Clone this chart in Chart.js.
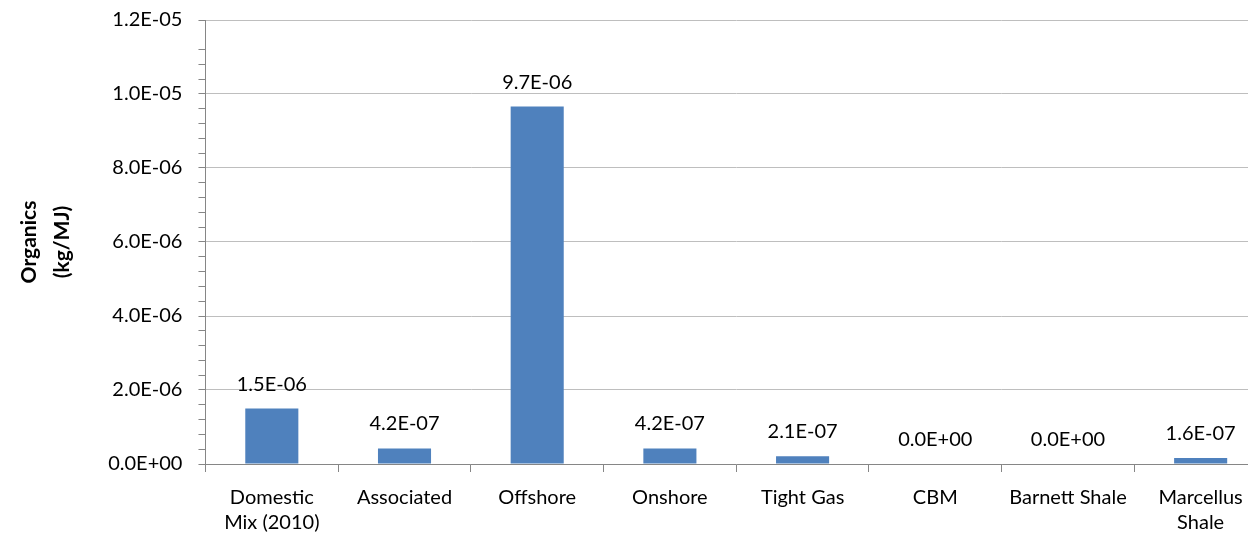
<!DOCTYPE html>
<html>
<head>
<meta charset="utf-8">
<script src="https://cdn.jsdelivr.net/npm/chart.js@4/dist/chart.umd.min.js"></script>
<style>
html,body{margin:0;padding:0;background:#fff;overflow:hidden;width:1248px;height:537px;}
#wrap{position:absolute;left:0;top:-8px;width:1280px;height:556px;}
</style>
</head>
<body>
<div id="wrap"><canvas id="c" width="1280" height="556"></canvas></div>
<script>
const categories = [["Domestic","Mix (2010)"],"Associated","Offshore","Onshore","Tight Gas","CBM","Barnett Shale",["Marcellus","Shale"]];
const organics = [1.5e-6, 4.2e-7, 9.66e-6, 4.2e-7, 2.1e-7, 0, 0, 1.6e-7];
const yTitle = ["Organics","(kg/MJ)"];
const yMin = 0, yMax = 1.2e-5, yMajor = 2e-6, yMinor = 4e-7;

function fmt(v){
  const s = v.toExponential(1);
  const parts = s.split('e');
  const ex = parseInt(parts[1],10);
  const sign = ex < 0 ? '-' : '+';
  return parts[0] + 'E' + sign + String(Math.abs(ex)).padStart(2,'0');
}
function isMajor(v){
  const r = v / yMajor;
  return Math.abs(r - Math.round(r)) < 1e-3;
}
const FONT = "Lato, 'Open Sans', sans-serif";
const FS = 20;

const labelPlugin = {
  id:'barLabels',
  afterDatasetsDraw(chart){
    const ctx = chart.ctx;
    const meta = chart.getDatasetMeta(0);
    ctx.save();
    ctx.font = FS + "px " + FONT;
    ctx.fillStyle = "#000";
    ctx.textAlign = "center";
    ctx.textBaseline = "alphabetic";
    meta.data.forEach((el,i)=>{
      ctx.fillText(fmt(organics[i]), el.x, el.y - 18);
    });
    ctx.restore();
  }
};

new Chart(document.getElementById('c'),{
  type:'bar',
  data:{
    labels:categories,
    datasets:[{data:organics, backgroundColor:'#4F81BD', borderWidth:0, categoryPercentage:1.0, barPercentage:0.4}]
  },
  options:{
    responsive:false,
    animation:false,
    layout:{padding:{left:0,right:13,top:2,bottom:0}},
    plugins:{legend:{display:false},tooltip:{enabled:false}},
    scales:{
      x:{
        grid:{drawOnChartArea:false, drawTicks:true, tickLength:8, tickColor:'#868686', offset:true},
        border:{color:'#868686', width:1},
        ticks:{font:{family:FONT,size:FS,lineHeight:1.25}, color:'#000', padding:13, maxRotation:0, autoSkip:false}
      },
      y:{
        min:yMin, max:yMax,
        grid:{
          color:(c)=> isMajor(c.tick.value) ? '#BEBEBE' : 'rgba(0,0,0,0)',
          tickColor:'#868686', tickLength:7, lineWidth:1
        },
        border:{color:'#868686', width:1},
        ticks:{
          stepSize:yMinor, autoSkip:false,
          font:{family:FONT,size:FS}, color:'#000', padding:16,
          callback:(v)=> isMajor(v) ? fmt(v) : ''
        },
        title:{display:true, text:yTitle, font:{family:FONT,size:21,weight:'bold',lineHeight:1.6}, color:'#000', padding:{top:12,bottom:13}}
      }
    }
  },
  plugins:[labelPlugin]
});
</script>
</body>
</html>
